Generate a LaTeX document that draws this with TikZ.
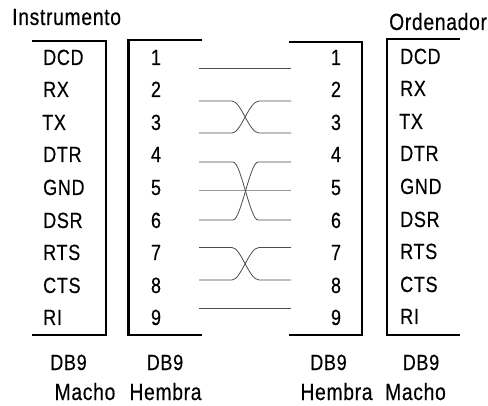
\documentclass[tikz,border=0pt]{standalone}
\usepackage{fontspec}
\setmainfont[FakeStretch=0.82,LetterSpace=3,FakeBold=0.35]{Liberation Sans}
\tikzset{
  lbl/.style={anchor=base west,inner sep=0pt,font=\fontsize{22bp}{22bp}\selectfont},
  num/.style={anchor=base,inner sep=0pt,font=\fontsize{22bp}{22bp}\selectfont},
  word/.style={inner sep=0pt,font=\fontsize{23.5bp}{23.5bp}\selectfont},
  shell/.style={line width=2.2bp,line join=miter},
  wire/.style={line width=0.8bp,black!70},
  wirepale/.style={line width=0.8bp,black!40}
}
\begin{document}
\begin{tikzpicture}[line join=bevel]
\useasboundingbox (0bp,0bp) rectangle (488bp,406bp);
%%
\node (node_instr) at (12bp,381bp) [word,anchor=base west] {Instrumento};
\node (node_orden) at (389bp,376bp) [word,anchor=base west] {Ordenador};
% connector shells
\draw [shell] (32bp,365bp) -- (106bp,365bp) -- (106bp,71bp) -- (32bp,71bp);
\draw [shell] (202bp,366bp) -- (128.5bp,366bp) -- (128.5bp,71bp) -- (202bp,71bp);
\draw [shell] (289bp,364bp) -- (362bp,364bp) -- (362bp,71bp) -- (289bp,71bp);
\draw [shell] (460bp,367bp) -- (387bp,367bp) -- (387bp,71bp) -- (460bp,71bp);
% left signals
\node (node_l_dcd) at (43bp,341bp) [lbl] {DCD};
\node (node_l_rx) at (43bp,309bp) [lbl] {RX};
\node (node_l_tx) at (42bp,276bp) [lbl] {TX};
\node (node_l_dtr) at (43bp,244bp) [lbl] {DTR};
\node (node_l_gnd) at (43bp,211bp) [lbl] {GND};
\node (node_l_dsr) at (43bp,178bp) [lbl] {DSR};
\node (node_l_rts) at (43bp,146bp) [lbl] {RTS};
\node (node_l_cts) at (43bp,113bp) [lbl] {CTS};
\node (node_l_ri) at (43bp,81bp) [lbl] {RI};
% left numbers
\node (node_a_1) at (156bp,341bp) [num] {1};
\node (node_a_2) at (156bp,309bp) [num] {2};
\node (node_a_3) at (156bp,276bp) [num] {3};
\node (node_a_4) at (156bp,244bp) [num] {4};
\node (node_a_5) at (156bp,211bp) [num] {5};
\node (node_a_6) at (156bp,178bp) [num] {6};
\node (node_a_7) at (156bp,146bp) [num] {7};
\node (node_a_8) at (156bp,113bp) [num] {8};
\node (node_a_9) at (156bp,81bp) [num] {9};
% right numbers
\node (node_b_1) at (336bp,341bp) [num] {1};
\node (node_b_2) at (336bp,309bp) [num] {2};
\node (node_b_3) at (336bp,276bp) [num] {3};
\node (node_b_4) at (336bp,244bp) [num] {4};
\node (node_b_5) at (336bp,211bp) [num] {5};
\node (node_b_6) at (336bp,178bp) [num] {6};
\node (node_b_7) at (336bp,146bp) [num] {7};
\node (node_b_8) at (336bp,113bp) [num] {8};
\node (node_b_9) at (336bp,81bp) [num] {9};
% right signals
\node (node_r_dcd) at (400bp,342bp) [lbl] {DCD};
\node (node_r_rx) at (400bp,310bp) [lbl] {RX};
\node (node_r_tx) at (399bp,277bp) [lbl] {TX};
\node (node_r_dtr) at (400bp,245bp) [lbl] {DTR};
\node (node_r_gnd) at (400bp,212bp) [lbl] {GND};
\node (node_r_dsr) at (400bp,179bp) [lbl] {DSR};
\node (node_r_rts) at (400bp,147bp) [lbl] {RTS};
\node (node_r_cts) at (400bp,114bp) [lbl] {CTS};
\node (node_r_ri) at (400bp,82bp) [lbl] {RI};
% footer
\node (node_db_a) at (68.5bp,36bp) [num] {DB9};
\node (node_db_b) at (165bp,36bp) [num] {DB9};
\node (node_db_c) at (328.5bp,36bp) [num] {DB9};
\node (node_db_d) at (421bp,36bp) [num] {DB9};
\node (node_macho_l) at (85bp,6bp) [word,anchor=base] {Macho};
\node (node_hembra_l) at (165.5bp,6bp) [word,anchor=base] {Hembra};
\node (node_hembra_r) at (336.5bp,6bp) [word,anchor=base] {Hembra};
\node (node_macho_r) at (415.5bp,6bp) [word,anchor=base] {Macho};
% wire ends
\coordinate (pin_a_1) at (199bp,338bp);
\coordinate (pin_a_2) at (199bp,305bp);
\coordinate (pin_a_3) at (199bp,273bp);
\coordinate (pin_a_4) at (199bp,244bp);
\coordinate (pin_a_5) at (199bp,216bp);
\coordinate (pin_a_6) at (199bp,186bp);
\coordinate (pin_a_7) at (199bp,158.5bp);
\coordinate (pin_a_8) at (199bp,126bp);
\coordinate (pin_a_9) at (199bp,97.5bp);
\coordinate (pin_b_1) at (291bp,338bp);
\coordinate (pin_b_2) at (291bp,305bp);
\coordinate (pin_b_3) at (291bp,273bp);
\coordinate (pin_b_4) at (291bp,244bp);
\coordinate (pin_b_5) at (291bp,216bp);
\coordinate (pin_b_6) at (291bp,186bp);
\coordinate (pin_b_7) at (291bp,158.5bp);
\coordinate (pin_b_8) at (291bp,126bp);
\coordinate (pin_b_9) at (291bp,97.5bp);
% wires
\draw [wire] (pin_a_1) -- (pin_b_1);
\draw [wire] (pin_a_2) -- (232bp,305bp) ..controls (241bp,305bp) and (249bp,273bp) .. (259bp,273bp) -- (pin_b_3);
\draw [wire] (pin_a_3) -- (232bp,273bp) ..controls (241bp,273bp) and (249bp,305bp) .. (259bp,305bp) -- (pin_b_2);
\draw [wire] (pin_a_4) -- (233bp,244bp) ..controls (241bp,244bp) and (250bp,186bp) .. (258bp,186bp) -- (pin_b_6);
\draw [wirepale] (pin_a_5) -- (pin_b_5);
\draw [wire] (pin_a_6) -- (233bp,186bp) ..controls (241bp,186bp) and (250bp,244bp) .. (258bp,244bp) -- (pin_b_4);
\draw [wire] (pin_a_7) -- (232bp,158.5bp) ..controls (241bp,158.5bp) and (249bp,126bp) .. (259bp,126bp) -- (pin_b_8);
\draw [wire] (pin_a_8) -- (232bp,126bp) ..controls (241bp,126bp) and (249bp,158.5bp) .. (259bp,158.5bp) -- (pin_b_7);
\draw [wire] (pin_a_9) -- (pin_b_9);
%
\end{tikzpicture}
\end{document}
